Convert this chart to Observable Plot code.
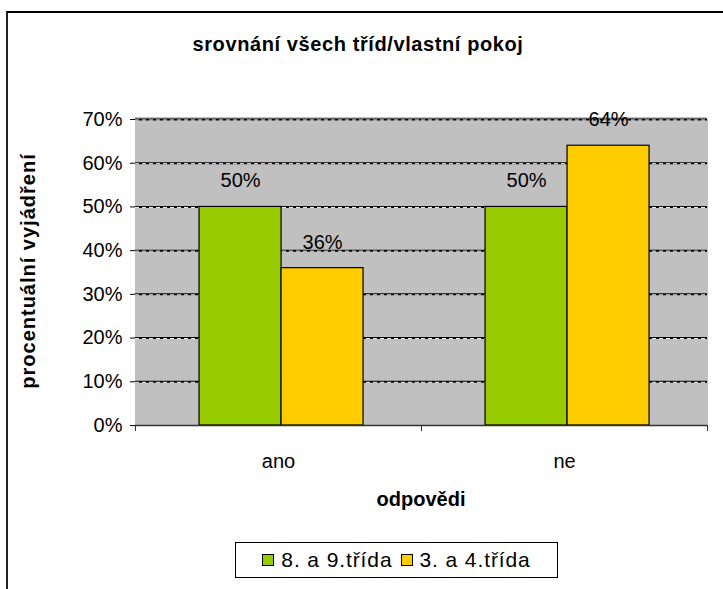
<!DOCTYPE html>
<html>
<head>
<meta charset="utf-8">
<script src="https://cdn.jsdelivr.net/npm/d3@7"></script>
<script src="https://cdn.jsdelivr.net/npm/@observablehq/plot@0.6"></script>
<style>
  html, body { margin: 0; padding: 0; background: #fff; }
  body { width: 723px; height: 589px; overflow: hidden; position: relative;
         font-family: "Liberation Sans", Arial, sans-serif; color: #000; }
  #frame { position: absolute; left: 6px; top: 11px; width: 760px; height: 700px;
           border-left: 2px solid #222; border-top: 2px solid #000; }
  #title { position: absolute; top: 33px; left: 158px; width: 400px; text-align: center;
           font-size: 20px; font-weight: bold; letter-spacing: 0.6px; white-space: nowrap; }
  #ytitle { position: absolute; left: 28px; top: 271px; transform: translate(-50%, -50%) rotate(-90deg);
            white-space: nowrap; font-size: 20px; font-weight: bold; letter-spacing: 1px; }
  #xtitle { position: absolute; left: 321px; width: 200px; top: 488px; text-align: center;
            font-size: 20px; font-weight: bold; }
  #chart { position: absolute; left: 0; top: 75px; }
  #legend { position: absolute; left: 235px; top: 542px; width: 323px; height: 36px;
            border: 1px solid #000; display: flex; align-items: center; justify-content: center;
            font-size: 21px; letter-spacing: 0.9px; box-sizing: border-box; }
  .sw { display: inline-block; width: 10px; height: 10px; border: 1px solid #000; margin-right: 7px; }
  .item { display: flex; align-items: center; margin: 0 4px; white-space: nowrap; }
</style>
</head>
<body>
<div id="frame"></div>
<div id="title">srovnání všech tříd/vlastní pokoj</div>
<div id="ytitle">procentuální vyjádření</div>
<div id="chart"></div>
<div id="xtitle">odpovědi</div>
<div id="legend"></div>
<script>
const categories = ["ano", "ne"];
const seriesNames = ["8. a 9.třída", "3. a 4.třída"];
const seriesColors = ["#99CC00", "#FFCC00"];
const values8_9 = [50, 50];
const values3_4 = [36, 64];
const yTicks = [0, 10, 20, 30, 40, 50, 60, 70];
const gridTicks = [10, 20, 30, 40, 50, 60, 70];

const data = [];
categories.forEach((c, i) => {
  data.push({cat: c, series: seriesNames[0], value: values8_9[i]});
  data.push({cat: c, series: seriesNames[1], value: values3_4[i]});
});

const W = 723, H = 445, mT = 44, mB = 95, mL = 135, mR = 16;
const plotH = H - mT - mB;

const chart = Plot.plot({
  width: W, height: H,
  marginTop: mT, marginBottom: mB, marginLeft: mL, marginRight: mR,
  style: {fontFamily: "'Liberation Sans', Arial, sans-serif", fontSize: "20px", color: "#000", background: "transparent"},
  fx: {domain: categories, padding: 0, tickSize: 0, tickPadding: 28, label: null},
  x: {domain: seriesNames, paddingInner: 0, paddingOuter: 0.744, align: 0.525, axis: null, round: false},
  y: {domain: [0, 70], ticks: yTicks, tickFormat: d => d + "%", tickSize: 5, tickPadding: 8, label: null, line: true},
  color: {domain: seriesNames, range: seriesColors},
  marks: [
    Plot.frame({fill: "#C0C0C0", stroke: "#C0C0C0", strokeWidth: 1}),
    Plot.ruleY([70], {stroke: "#808080", strokeWidth: 1, dy: -1.5}),
    Plot.ruleY(gridTicks, {stroke: "#000", strokeWidth: 2}),
    Plot.ruleY(gridTicks, {stroke: "#fff", strokeWidth: 1, strokeDasharray: "4,3", dy: 0.5}),
    Plot.barY(data, {fx: "cat", x: "series", y: "value", fill: "series", stroke: "#000", strokeWidth: 1.2}),
    Plot.text(data, {fx: "cat", x: "series", y: "value", text: d => d.value + "%", dy: -26, fontSize: 20}),
    Plot.ruleY([0], {stroke: "#333", strokeWidth: 1.5}),
    Plot.frame({anchor: "left", insetTop: plotH, insetBottom: -5, stroke: "#333"}),
    Plot.frame({anchor: "right", insetTop: plotH, insetBottom: -5, stroke: "#333"})
  ]
});
document.getElementById("chart").appendChild(chart);

const legend = document.getElementById("legend");
seriesNames.forEach((s, i) => {
  const it = document.createElement("div");
  it.className = "item";
  const sw = document.createElement("span");
  sw.className = "sw";
  sw.style.background = seriesColors[i];
  it.appendChild(sw);
  it.appendChild(document.createTextNode(s));
  legend.appendChild(it);
});
</script>
</body>
</html>
